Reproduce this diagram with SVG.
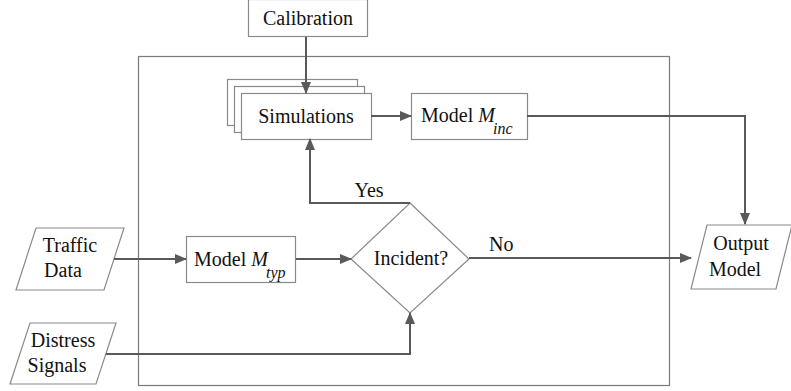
<svg xmlns="http://www.w3.org/2000/svg" width="791" height="391" viewBox="0 0 791 391">
<defs>
<marker id="arr" markerWidth="12" markerHeight="10" refX="11" refY="5" orient="auto" markerUnits="userSpaceOnUse">
<path d="M0,0 L12,5 L0,10 Z" fill="#595959"/>
</marker>
<style>
.box{fill:#fff;stroke:#8a8a8a;stroke-width:1.2}
.frame{fill:none;stroke:#7a7a7a;stroke-width:1.2}
.con{fill:none;stroke:#595959;stroke-width:2;marker-end:url(#arr)}
.t{font-family:'Liberation Serif','Times New Roman',serif;font-size:20px;fill:#111}
.c{text-anchor:middle}
.it{font-style:italic}
.sub{font-style:italic;font-size:16px}
</style>
</defs>
<rect class="frame" x="138.5" y="56.5" width="531" height="329"/>
<g id="calibration">
<rect class="box" x="248.5" y="-0.5" width="119" height="37"/>
<text class="t c" x="308" y="25">Calibration</text>
</g>
<g id="simulations">
<rect class="box" x="227.5" y="79.5" width="130" height="46"/>
<rect class="box" x="234.5" y="86.5" width="130" height="46"/>
<rect class="box" x="241.5" y="93.5" width="130" height="46"/>
<text class="t c" x="306" y="123">Simulations</text>
</g>
<g id="model-inc">
<rect class="box" x="411.5" y="93.5" width="116" height="46"/>
<text class="t" x="421" y="122">Model <tspan class="it">M</tspan></text>
<text class="t sub" x="493" y="134">inc</text>
</g>
<g id="model-typ">
<rect class="box" x="186.5" y="236.5" width="109" height="46"/>
<text class="t" x="194" y="266">Model <tspan class="it">M</tspan></text>
<text class="t sub" x="266" y="278">typ</text>
</g>
<g id="incident">
<polygon class="box" points="410,203 469,259 410,313 351,259"/>
<text class="t c" x="411" y="265">Incident?</text>
</g>
<g id="traffic-data">
<polygon class="box" points="36,228 124,228 104,290 16,290"/>
<text class="t c" x="70" y="252">Traffic</text>
<text class="t c" x="63" y="277">Data</text>
</g>
<g id="distress-signals">
<polygon class="box" points="30,323 116,323 96,384 10,384"/>
<text class="t c" x="63" y="347">Distress</text>
<text class="t c" x="57" y="372">Signals</text>
</g>
<g id="output-model">
<polygon class="box" points="707,225 792,225 776,289 691,289"/>
<text class="t c" x="741" y="250">Output</text>
<text class="t c" x="735" y="276">Model</text>
</g>
<g id="connectors">
<path class="con" d="M306,37 V93"/>
<path class="con" d="M371,116 H411"/>
<path class="con" d="M527,116 H745 V224"/>
<path class="con" d="M114,259 H186"/>
<path class="con" d="M296,259 H351"/>
<path class="con" d="M410,203 H310 V139"/>
<path class="con" d="M469,258 H691"/>
<path class="con" d="M106,354 H410 V313"/>
<text class="t c" x="369" y="197">Yes</text>
<text class="t" x="489" y="251">No</text>
</g>
</svg>
